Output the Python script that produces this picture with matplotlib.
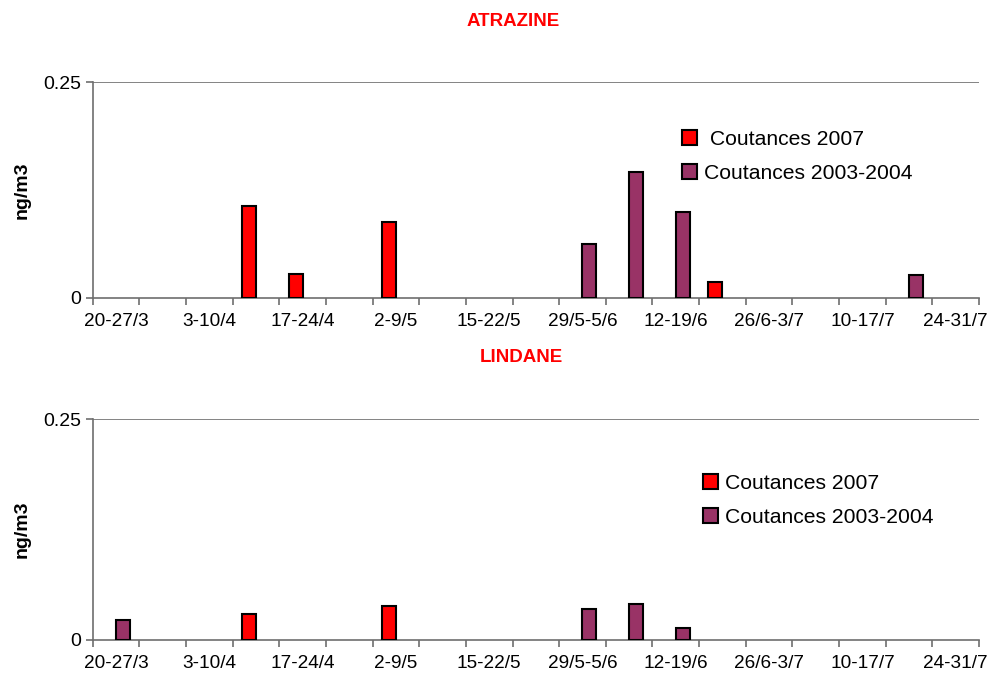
import numpy as np
import matplotlib
matplotlib.use("Agg")
import matplotlib.pyplot as plt
from matplotlib.patches import Patch

plt.rcParams['font.family'] = ['Liberation Sans', 'DejaVu Sans']

# weekly sampling periods (only every other label is shown)
weeks = ["20-27/3", "27/3-3/4", "3-10/4", "10-17/4", "17-24/4", "24/4-2/5",
         "2-9/5", "8-15/5", "15-22/5", "22-29/5", "29/5-5/6", "5-12/6",
         "12-19/6", "19-26/6", "26/6-3/7", "3-10/7", "10-17/7", "17-24/7",
         "24-31/7"]

# ATRAZINE (ng/m3), nan = no value
atrazine_2007 = [np.nan, np.nan, np.nan, 0.106, 0.028, np.nan, 0.088, np.nan,
                 np.nan, np.nan, np.nan, np.nan, np.nan, 0.018, np.nan, np.nan,
                 np.nan, np.nan, np.nan]
atrazine_0304 = [np.nan, np.nan, np.nan, np.nan, np.nan, np.nan, np.nan, np.nan,
                 np.nan, np.nan, 0.062, 0.146, 0.100, np.nan, np.nan, np.nan,
                 np.nan, 0.026, np.nan]

# LINDANE (ng/m3)
lindane_2007 = [np.nan, np.nan, np.nan, 0.029, np.nan, np.nan, 0.039, np.nan,
                np.nan, np.nan, np.nan, np.nan, np.nan, np.nan, np.nan, np.nan,
                np.nan, np.nan, np.nan]
lindane_0304 = [0.023, np.nan, np.nan, np.nan, np.nan, np.nan, np.nan, np.nan,
                np.nan, np.nan, 0.035, 0.041, 0.014, np.nan, np.nan, np.nan,
                np.nan, np.nan, np.nan]

red = '#FF0000'
plum = '#993366'
axis_col = '#6E6E6E'

fig = plt.figure(figsize=(9.92, 6.75), dpi=100)


def draw_panel(rect, s2007, s0304, title, title_y, leg_xy, pad_first):
    ax = fig.add_axes(rect)
    x = np.arange(len(weeks))
    w = 0.3
    for vals, off, col in [(s2007, -w / 2, red), (s0304, w / 2, plum)]:
        vals = np.array(vals, dtype=float)
        m = ~np.isnan(vals)
        ax.bar(x[m] + off, vals[m], width=w, color=col, edgecolor='black',
               linewidth=1.5, zorder=3)

    ax.set_xlim(-0.5, len(weeks) - 0.5)
    ax.set_ylim(0, 0.25)
    ax.set_yticks([0, 0.25])
    ax.set_yticklabels(["0", "0.25"])
    ax.axhline(0.25, color=axis_col, lw=1.2, zorder=1)

    ax.set_xticks(x[::2])
    ax.set_xticklabels(weeks[::2])
    ax.set_xticks(np.arange(len(weeks) + 1) - 0.5, minor=True)
    ax.tick_params(axis='x', which='major', length=0, pad=11, labelsize=13.7)
    ax.tick_params(axis='x', which='minor', length=5, width=1.2, color=axis_col)
    ax.tick_params(axis='y', length=5, width=1.2, color=axis_col, labelsize=14, pad=3)

    for s in ['top', 'right']:
        ax.spines[s].set_visible(False)
    for s in ['left', 'bottom']:
        ax.spines[s].set_color(axis_col)
        ax.spines[s].set_linewidth(1.2)

    ax.set_ylabel("ng/m3", fontsize=14, fontweight='bold')
    ax.yaxis.set_label_coords(-0.07, 0.5)

    fig.text(title[1], title_y, title[0], color=red, fontsize=13.5,
             fontweight='bold', ha='center', va='center')

    handles = [Patch(facecolor=red, edgecolor='black', linewidth=1.5),
               Patch(facecolor=plum, edgecolor='black', linewidth=1.5)]
    labels = [(" " if pad_first else "") + "Coutances 2007", "Coutances 2003-2004"]
    fig.legend(handles, labels, loc='upper left',
               bbox_to_anchor=(leg_xy[0] / 992, 1 - leg_xy[1] / 675),
               frameon=False, fontsize=15.2, handlelength=0.7, handleheight=0.7,
               handletextpad=0.35, labelspacing=0.72, borderpad=0,
               borderaxespad=0)
    return ax


draw_panel([92.7 / 992, 1 - 297.7 / 675, (979 - 92.7) / 992, (297.7 - 82.3) / 675],
           atrazine_2007, atrazine_0304, ("ATRAZINE", 513 / 992), 1 - 21 / 675,
           (682, 130), True)
draw_panel([92.7 / 992, 1 - 640 / 675, (979 - 92.7) / 992, (640 - 419.3) / 675],
           lindane_2007, lindane_0304, ("LINDANE", 521 / 992), 1 - 357 / 675,
           (703, 474), False)

fig.savefig("out.png", dpi=100)
